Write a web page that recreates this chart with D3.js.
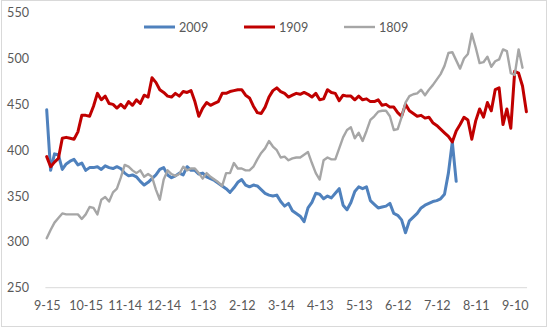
<!DOCTYPE html>
<html>
<head>
<meta charset="utf-8">
<script src="https://cdn.jsdelivr.net/npm/d3@7"></script>
<style>
  body { margin: 0; background: #fff; }
  text { font-family: Lato, "Open Sans", sans-serif; font-size: 12.6px; fill: #595959; }
</style>
</head>
<body>
<div id="graphContainer"></div>
<script>
// one value every 3 days, starting 9-15
const dayStep = 3;

const xLabels = ["9-15", "10-15", "11-14", "12-14", "1-13", "2-12", "3-14", "4-13", "5-13", "6-12", "7-12", "8-11", "9-10"];
const yTicks = [250, 300, 350, 400, 450, 500, 550];
const seriesNames = ["2009", "1909", "1809"];

const s2009 = [
  444, 378, 396, 395, 379, 385, 388, 390, 384, 386,
  378, 381, 381, 382, 379, 383, 381, 380, 382, 380,
  375, 372, 373, 371, 366, 362, 365, 369, 373, 379,
  381, 373, 370, 372, 375, 373, 382, 378, 378, 374,
  375, 371, 369, 367, 364, 361, 358, 354, 359, 365,
  368, 362, 360, 362, 361, 357, 353, 351, 350, 351,
  344, 339, 342, 334, 331, 328, 322, 337, 343, 353,
  352, 347, 350, 348, 353, 358, 340, 335, 343, 355,
  360, 358, 360, 345, 341, 337, 338, 339, 342, 331,
  329, 324, 310, 323, 327, 331, 337, 340, 342, 344,
  345, 347, 352, 375, 409, 366
];

const s1909 = [
  393, 382, 387, 391, 413, 414, 413, 412, 420, 438,
  438, 437, 448, 462, 455, 459, 451, 450, 446, 450,
  446, 453, 449, 455, 451, 460, 458, 479, 474, 466,
  463, 459, 458, 462, 459, 464, 463, 465, 453, 437,
  446, 452, 449, 451, 453, 462, 462, 464, 465, 466,
  466, 460, 457, 448, 441, 440, 447, 458, 465, 468,
  464, 462, 458, 460, 462, 461, 463, 461, 458, 462,
  455, 456, 466, 463, 462, 454, 460, 459, 459, 455,
  459, 455, 456, 453, 453, 455, 449, 450, 447, 447,
  441, 437, 450, 443, 440, 437, 438, 435, 436, 430,
  427, 423, 419, 415, 409, 421, 428, 436, 433, 412,
  432, 445, 436, 452, 443, 466, 468, 428, 445, 424,
  486, 484, 470, 442
];

const s1809 = [
  304, 313, 321, 326, 331, 330, 330, 330, 330, 325,
  330, 338, 337, 330, 346, 349, 344, 354, 358, 370,
  384, 382, 378, 375, 378, 371, 374, 371, 357, 346,
  368, 378, 374, 372, 374, 382, 378, 380, 380, 375,
  369, 375, 371, 368, 365, 361, 375, 375, 386, 380,
  380, 378, 378, 382, 390, 397, 402, 410, 404, 400,
  392, 393, 389, 391, 392, 392, 395, 398, 386, 375,
  368, 389, 392, 390, 390, 402, 414, 422, 425, 413,
  419, 410, 421, 433, 437, 442, 443, 443, 437, 422,
  423, 436, 452, 459, 461, 462, 466, 460, 466, 471,
  477, 483, 492, 506, 507, 498, 489, 500, 505, 527,
  512, 495, 496, 502, 491, 497, 499, 510, 508, 484,
  482, 510, 490
];

const colors = ["#4f81bd", "#c00000", "#a6a6a6"];
const widths = [3, 3, 2.4];

const svg = d3
  .select("#graphContainer")
  .append("svg")
  .attr("width", 550)
  .attr("height", 330);

svg
  .append("rect")
  .attr("x", 1.5)
  .attr("y", 0.5)
  .attr("width", 545)
  .attr("height", 326)
  .attr("fill", "#fff")
  .attr("stroke", "#d9d9d9");

const x = d3.scaleLinear().domain([0, 360]).range([46.7, 514.7]);
const y = d3.scaleLinear().domain([250, 550]).range([287.7, 12.7]);

// axis line at the bottom
svg
  .append("line")
  .attr("x1", x(-1))
  .attr("x2", x(369.5))
  .attr("y1", y(250))
  .attr("y2", y(250))
  .attr("stroke", "#d9d9d9")
  .attr("stroke-width", 1);

const yAxis = d3.axisLeft(y).tickValues(yTicks).tickSize(0).tickPadding(0);
const gy = svg.append("g").attr("transform", "translate(29,0)").call(yAxis);
gy.select(".domain").remove();
gy.selectAll("text").attr("font-family", null).attr("font-size", null).attr("fill", null);

const xAxis = d3
  .axisBottom(x)
  .tickValues(xLabels.map((d, i) => i * 30))
  .tickFormat((d, i) => xLabels[i])
  .tickSize(0)
  .tickPadding(0);
const gx = svg.append("g").attr("transform", "translate(0,301)").call(xAxis);
gx.select(".domain").remove();
gx.selectAll("text").attr("font-family", null).attr("font-size", null).attr("fill", null).attr("dy", "0.71em");

const line = d3
  .line()
  .x((d, i) => x(i * dayStep))
  .y((d) => y(d))
  .curve(d3.curveLinear);

[s2009, s1909, s1809].forEach((s, k) => {
  svg
    .append("path")
    .datum(s)
    .attr("d", line)
    .attr("fill", "none")
    .attr("stroke", colors[k])
    .attr("stroke-width", widths[k])
    .attr("stroke-linejoin", "round")
    .attr("stroke-linecap", "round");
});

// legend
const legend = svg
  .append("g")
  .selectAll("g")
  .data(seriesNames)
  .enter()
  .append("g")
  .attr("transform", (d, i) => `translate(${144 + i * 100},27)`);

legend
  .append("line")
  .attr("x1", 0)
  .attr("x2", 31)
  .attr("stroke", (d, i) => colors[i])
  .attr("stroke-width", (d, i) => widths[i]);

legend
  .append("text")
  .attr("x", 35)
  .attr("dy", "0.36em")
  .text((d) => d);
</script>
</body>
</html>
